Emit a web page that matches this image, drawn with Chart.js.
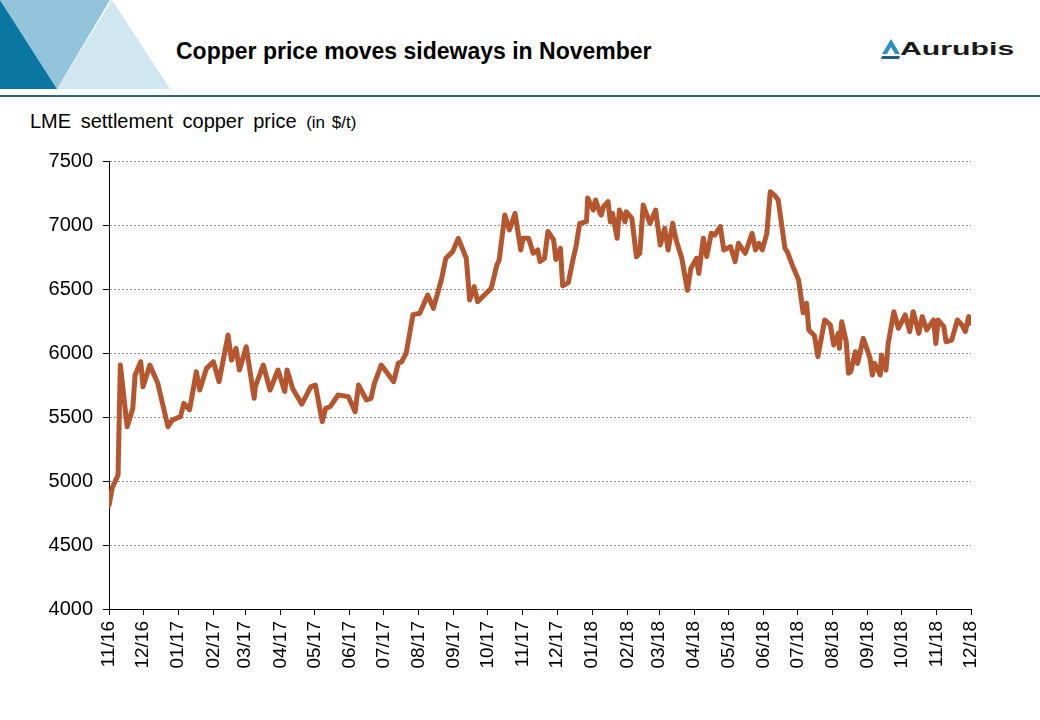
<!DOCTYPE html>
<html>
<head>
<meta charset="utf-8">
<title>Copper price moves sideways in November</title>
<script src="https://cdn.jsdelivr.net/npm/chart.js@4.4.1/dist/chart.umd.min.js"></script>
<style>
  html, body { margin: 0; padding: 0; background: #fff; }
  #page { position: relative; width: 1040px; height: 720px; overflow: hidden;
          font-family: Arial, "Liberation Sans", sans-serif; color: #000; }
  #chart { position: absolute; left: 0; top: 0; }
  #deco { position: absolute; left: 0; top: 0; }
  #rule { position: absolute; left: 0; top: 95px; width: 1040px; height: 2px; background: #2f6577; }
  #title { position: absolute; left: 176px; top: 40px; font-size: 23px; line-height: 23px; font-weight: bold; white-space: nowrap; }
  #subtitle { position: absolute; left: 30px; top: 111px; font-size: 20px; line-height: 20px; word-spacing: 4px; white-space: nowrap; }
  #subtitle small { font-size: 17px; word-spacing: 2px; }
  #logo { position: absolute; left: 881px; top: 38px; height: 22px; white-space: nowrap; }
  #logo svg { position: absolute; left: 0; top: 0; }
  #logo span { position: absolute; left: 19px; top: 2px; font-size: 18px; line-height: 18px; font-weight: bold;
               color: #1a1a1a; transform: scale(1.68, 1); transform-origin: left top; }
</style>
</head>
<body>
<div id="page">
  <svg id="deco" width="180" height="92">
    <polygon points="0,0 110,0 57,89" fill="#93c4db"/>
    <polygon points="0,0 57,89 0,89" fill="#0b76a2"/>
    <polygon points="112,0 170,89 57,89" fill="#d0e6f1"/>
  </svg>
  <div id="title">Copper price moves sideways in November</div>
  <div id="logo">
    <svg width="20" height="22">
      <polygon points="10,1 19,16 14,16 10,9 6,16 1,16" fill="#2b90bf"/>
      <polygon points="1,18 19,18 18,21 0,21" fill="#1f5f7c"/>
    </svg>
    <span>Aurubis</span>
  </div>
  <div id="rule"></div>
  <div id="subtitle">LME settlement copper price <small>(in $/t)</small></div>
  <canvas id="chart" width="1040" height="720"></canvas>
</div>
<script>
// LME settlement copper price, $/t
const dates = [
  '2016-11-01', '2016-11-04', '2016-11-09', '2016-11-11', '2016-11-17', '2016-11-22', '2016-11-24', '2016-11-29',
  '2016-12-01', '2016-12-07', '2016-12-14', '2016-12-23', '2016-12-27',
  '2017-01-03', '2017-01-06', '2017-01-11', '2017-01-17', '2017-01-20', '2017-01-26',
  '2017-02-01', '2017-02-06', '2017-02-14', '2017-02-17', '2017-02-21', '2017-02-24',
  '2017-03-02', '2017-03-09', '2017-03-10', '2017-03-17', '2017-03-23', '2017-03-30',
  '2017-04-05', '2017-04-07', '2017-04-12', '2017-04-20', '2017-04-28',
  '2017-05-02', '2017-05-08', '2017-05-11', '2017-05-15', '2017-05-22', '2017-05-31',
  '2017-06-06', '2017-06-09', '2017-06-16', '2017-06-20', '2017-06-23', '2017-06-29',
  '2017-07-10', '2017-07-14', '2017-07-17', '2017-07-21', '2017-07-27',
  '2017-08-02', '2017-08-09', '2017-08-14', '2017-08-21', '2017-08-25', '2017-08-31',
  '2017-09-05', '2017-09-12', '2017-09-15', '2017-09-19', '2017-09-22', '2017-09-28',
  '2017-10-04', '2017-10-09', '2017-10-11', '2017-10-16', '2017-10-20', '2017-10-25', '2017-10-30',
  '2017-11-01', '2017-11-06', '2017-11-10', '2017-11-14', '2017-11-16', '2017-11-20', '2017-11-23', '2017-11-28', '2017-11-30',
  '2017-12-04', '2017-12-06', '2017-12-11', '2017-12-15', '2017-12-18', '2017-12-21', '2017-12-27', '2017-12-28',
  '2018-01-02', '2018-01-04', '2018-01-08', '2018-01-09', '2018-01-11', '2018-01-15', '2018-01-17', '2018-01-19',
  '2018-01-23', '2018-01-25', '2018-01-30', '2018-01-31',
  '2018-02-05', '2018-02-09', '2018-02-12', '2018-02-15', '2018-02-21', '2018-02-26',
  '2018-03-02', '2018-03-06', '2018-03-09', '2018-03-13', '2018-03-16', '2018-03-21', '2018-03-26', '2018-03-29',
  '2018-04-03', '2018-04-05', '2018-04-09', '2018-04-12', '2018-04-16', '2018-04-19', '2018-04-24', '2018-04-27',
  '2018-05-03', '2018-05-07', '2018-05-10', '2018-05-16', '2018-05-22', '2018-05-25', '2018-05-28', '2018-05-31',
  '2018-06-04', '2018-06-07', '2018-06-11', '2018-06-14', '2018-06-20', '2018-06-22', '2018-06-27',
  '2018-07-02', '2018-07-06', '2018-07-09', '2018-07-11', '2018-07-16', '2018-07-19', '2018-07-25', '2018-07-30',
  '2018-08-02', '2018-08-06', '2018-08-07', '2018-08-09', '2018-08-13', '2018-08-15', '2018-08-17', '2018-08-21',
  '2018-08-23', '2018-08-28',
  '2018-09-03', '2018-09-05', '2018-09-07', '2018-09-12', '2018-09-13', '2018-09-17', '2018-09-19', '2018-09-24', '2018-09-28',
  '2018-10-04', '2018-10-08', '2018-10-11', '2018-10-16', '2018-10-19', '2018-10-23', '2018-10-29', '2018-10-31',
  '2018-11-02', '2018-11-07', '2018-11-09', '2018-11-14', '2018-11-19', '2018-11-23', '2018-11-26', '2018-11-29', '2018-11-30'
];

const prices = [
  4810, 4950, 5047, 5906, 5424, 5568, 5828, 5932,
  5737, 5906, 5763, 5424, 5477,
  5503, 5607, 5555, 5854, 5711, 5880,
  5932, 5776, 6140, 5945, 6037, 5867,
  6049, 5646, 5737, 5906, 5711, 5867,
  5700, 5867, 5720, 5600, 5737,
  5750, 5464, 5568, 5581, 5672, 5659,
  5542, 5750, 5633, 5646, 5763, 5906,
  5776, 5919, 5932, 5997, 6300,
  6310, 6453, 6349, 6570, 6740, 6792,
  6896, 6740, 6414, 6518, 6401, 6453,
  6505, 6688, 6727, 7078, 6961, 7091, 6805,
  6896, 6896, 6779, 6805, 6714, 6740, 6950, 6883, 6730,
  6818, 6525, 6550, 6727, 6844, 7013, 7026, 7210,
  7117, 7195, 7091, 7078, 7143, 7182, 7026, 7091,
  6896, 7117, 7026, 7104,
  7052, 6753, 6779, 7156, 7013, 7117,
  6844, 6974, 6805, 7013, 6883, 6740, 6490, 6661,
  6740, 6622, 6896, 6753, 6935, 6922, 6987, 6805,
  6831, 6714, 6857, 6779, 6935, 6805, 6857, 6805,
  6935, 7260, 7230, 7195, 6818, 6792, 6675,
  6570, 6315, 6388, 6180, 6135, 5971, 6258, 6219,
  6062, 6154, 6037, 6245, 6088, 5841, 5854, 6010,
  5919, 6114,
  5958, 5828, 5919, 5828, 5984, 5867, 6075, 6323, 6193,
  6297, 6167, 6323, 6154, 6284, 6180, 6258, 6075,
  6258, 6206, 6088, 6101, 6258, 6219, 6167, 6284, 6232
];

const monthLabels = [
  '11/16', '12/16', '01/17', '02/17', '03/17', '04/17', '05/17', '06/17', '07/17', '08/17', '09/17', '10/17', '11/17',
  '12/17', '01/18', '02/18', '03/18', '04/18', '05/18', '06/18', '07/18', '08/18', '09/18', '10/18', '11/18', '12/18'
];

const yTicks = { min: 4000, max: 7500, step: 500 };

const ORIGIN = Date.UTC(2016, 10, 1);
const DAY = 86400000;

function dayOffset(iso) {
    const [y, m, d] = iso.split('-').map(Number);
    return (Date.UTC(y, m - 1, d) - ORIGIN) / DAY;
}

function monthOffset(label) {
    // '11/16' -> days since 1 Nov 2016
    const [mm, yy] = label.split('/').map(Number);
    return (Date.UTC(2000 + yy, mm - 1, 1) - ORIGIN) / DAY;
}

const tickDays = monthLabels.map(monthOffset);
const points = dates.map((d, i) => ({ x: dayOffset(d), y: prices[i] }));

const fontFamily = 'Arial, "Liberation Sans", sans-serif';

new Chart(document.getElementById('chart').getContext('2d'), {
    type: 'line',
    data: {
        datasets: [{
            label: 'LME settlement copper price',
            data: points,
            borderColor: '#b5562f',
            borderWidth: 5,
            borderJoinStyle: 'round',
            borderCapStyle: 'round',
            pointRadius: 0,
            tension: 0,
            fill: false
        }]
    },
    options: {
        responsive: false,
        animation: false,
        devicePixelRatio: 1,
        layout: { padding: { top: 161, left: 0, right: 69, bottom: 0 } },
        plugins: {
            legend: { display: false },
            tooltip: { enabled: false },
            title: { display: false }
        },
        scales: {
            x: {
                type: 'linear',
                min: tickDays[0],
                max: tickDays[tickDays.length - 1],
                afterBuildTicks: scale => { scale.ticks = tickDays.map(v => ({ value: v })); },
                afterFit: scale => { scale.height = 111; },
                grid: { drawOnChartArea: false, drawTicks: true, tickLength: 6, tickColor: '#000', tickWidth: 1 },
                border: { display: true, color: '#000', width: 1 },
                ticks: {
                    autoSkip: false,
                    minRotation: 90,
                    maxRotation: 90,
                    padding: 6,
                    color: '#000',
                    font: { family: fontFamily, size: 19 },
                    callback: (value, index) => monthLabels[index]
                }
            },
            y: {
                min: yTicks.min,
                max: yTicks.max,
                afterFit: scale => { scale.width = 109; },
                grid: { color: '#8c8c8c', lineWidth: 1, tickLength: 6, tickColor: '#000', tickWidth: 1 },
                border: { display: true, color: '#000', width: 1, dash: [2, 2] },
                ticks: {
                    stepSize: yTicks.step,
                    padding: 10,
                    color: '#000',
                    font: { family: fontFamily, size: 20 },
                    callback: value => String(value)
                }
            }
        }
    }
});
</script>
</body>
</html>
